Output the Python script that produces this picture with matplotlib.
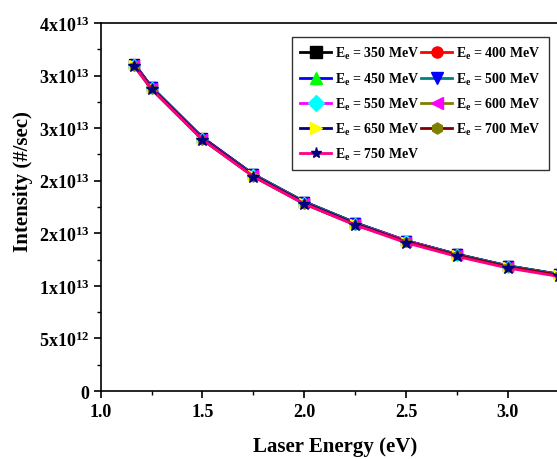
import matplotlib
matplotlib.use("Agg")
import matplotlib.pyplot as plt
from matplotlib.ticker import FixedLocator, FixedFormatter, MultipleLocator

plt.rcParams["font.family"] = ["Liberation Serif", "DejaVu Serif"]
plt.rcParams["font.weight"] = "bold"
plt.rcParams["mathtext.fontset"] = "custom"
plt.rcParams["mathtext.rm"] = "Liberation Serif:bold"
plt.rcParams["mathtext.it"] = "Liberation Serif:bold"
plt.rcParams["mathtext.bf"] = "Liberation Serif:bold"

# Laser photon energy (eV)
LASER_E = [1.165, 1.25, 1.5, 1.75, 2.0, 2.25, 2.5, 2.75, 3.0, 3.25]

# Intensity (#/sec) for each electron beam energy; curves nearly coincide
I_350 = [3.11e13, 2.89e13, 2.41e13, 2.06e13, 1.80e13, 1.60e13, 1.43e13, 1.30e13, 1.19e13, 1.11e13]
I_400 = [3.11e13, 2.89e13, 2.41e13, 2.06e13, 1.80e13, 1.60e13, 1.43e13, 1.30e13, 1.19e13, 1.11e13]
I_450 = [3.11e13, 2.89e13, 2.41e13, 2.06e13, 1.80e13, 1.60e13, 1.43e13, 1.30e13, 1.19e13, 1.11e13]
I_500 = [3.10e13, 2.89e13, 2.40e13, 2.06e13, 1.80e13, 1.60e13, 1.43e13, 1.30e13, 1.19e13, 1.11e13]
I_550 = [3.10e13, 2.88e13, 2.40e13, 2.05e13, 1.79e13, 1.59e13, 1.43e13, 1.29e13, 1.18e13, 1.10e13]
I_600 = [3.10e13, 2.88e13, 2.40e13, 2.05e13, 1.79e13, 1.59e13, 1.42e13, 1.29e13, 1.18e13, 1.10e13]
I_650 = [3.10e13, 2.88e13, 2.40e13, 2.05e13, 1.79e13, 1.59e13, 1.42e13, 1.29e13, 1.18e13, 1.10e13]
I_700 = [3.09e13, 2.87e13, 2.39e13, 2.04e13, 1.78e13, 1.58e13, 1.42e13, 1.29e13, 1.18e13, 1.10e13]
I_750 = [3.09e13, 2.87e13, 2.39e13, 2.04e13, 1.78e13, 1.58e13, 1.41e13, 1.28e13, 1.17e13, 1.09e13]

BEAM_E = [350, 400, 450, 500, 550, 600, 650, 700, 750]
SERIES = [I_350, I_400, I_450, I_500, I_550, I_600, I_650, I_700, I_750]

# (line colour, marker, marker face colour)
STYLES = [
    ("#000000", "s", "#000000"),
    ("#FF0000", "o", "#FF0000"),
    ("#0000FF", "^", "#00FF00"),
    ("#008080", "v", "#0000FF"),
    ("#FF00FF", "D", "#00FFFF"),
    ("#808000", "<", "#FF00FF"),
    ("#000080", ">", "#FFFF00"),
    ("#800000", "h", "#808000"),
    ("#FF0080", "*", "#000080"),
]

Y_TICKS = [0, 5e12, 1e13, 1.5e13, 2e13, 2.5e13, 3e13, 3.5e13]
Y_LABELS = ["0", "5x10$^{12}$", "1x10$^{13}$", "2x10$^{13}$", "2x10$^{13}$",
            "3x10$^{13}$", "3x10$^{13}$", "4x10$^{13}$"]

fig = plt.figure(figsize=(5.57, 4.6), dpi=100)
ax = fig.add_axes([0.1808, 0.1478, 0.8406, 0.80])

for e, vals, (lc, mk, mfc) in zip(BEAM_E, SERIES, STYLES):
    ms = 9 if mk == "*" else 6.5
    ax.plot(LASER_E, vals, color=lc, lw=2, marker=mk, ms=ms, mfc=mfc,
            mec=mfc, label=f"E$_{{e}}$ = {e} MeV")

ax.set_xlim(1.0, 3.3)
ax.set_ylim(0, 3.5e13)
ax.xaxis.set_major_locator(MultipleLocator(0.5))
ax.xaxis.set_minor_locator(MultipleLocator(0.25))
ax.xaxis.set_major_formatter(plt.FormatStrFormatter("%.1f"))
ax.yaxis.set_major_locator(FixedLocator(Y_TICKS))
ax.yaxis.set_major_formatter(FixedFormatter(Y_LABELS))
ax.yaxis.set_minor_locator(MultipleLocator(2.5e12))
ax.tick_params(which="major", direction="out", length=5, width=1.2,
               labelsize=13, top=False, right=False)
ax.tick_params(which="minor", direction="out", length=3, width=1.0)
for s in ax.spines.values():
    s.set_linewidth(1.2)

ax.set_xlabel("Laser Energy (eV)", fontsize=15, fontweight="bold", labelpad=12)
ax.set_ylabel("Intensity (#/sec)", fontsize=15, fontweight="bold")
ax.yaxis.set_label_coords(-0.144, 0.573)

# legend filled row by row, as in the original (2 columns)
handles, labels = ax.get_legend_handles_labels()
order = [0, 2, 4, 6, 8, 1, 3, 5, 7]
leg = ax.legend([handles[i] for i in order], [labels[i] for i in order],
                ncol=2, loc="upper left", bbox_to_anchor=(292 / 557, 1 - 38 / 460),
                bbox_transform=fig.transFigure, fontsize=10, frameon=True,
                fancybox=False, edgecolor="black", handlelength=2.2,
                handletextpad=0.3, columnspacing=0.15, labelspacing=0.65,
                borderpad=0.6, borderaxespad=0)
leg.get_frame().set_linewidth(1.0)
for h in leg.legend_handles:
    h.set_markersize(8)

fig.savefig("out.png", dpi=100)
